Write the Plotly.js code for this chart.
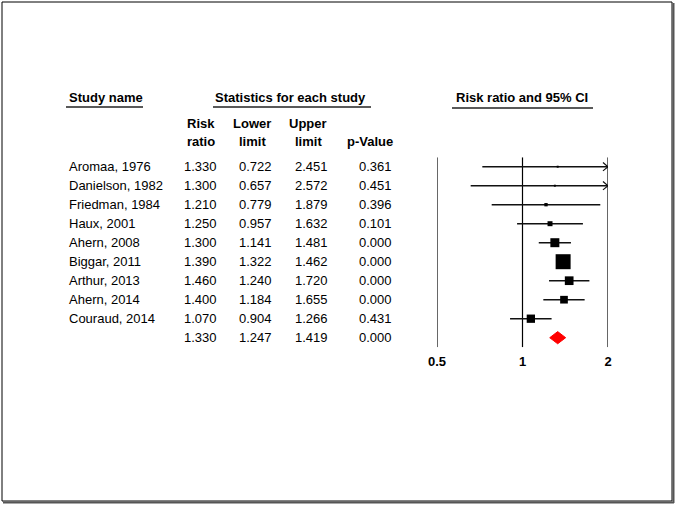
<!DOCTYPE html>
<html>
<head>
<meta charset="utf-8">
<script src="https://cdn.plot.ly/plotly-3.0.1.min.js"></script>
<style>
  html, body { margin: 0; padding: 0; background: #fff; }
  #chart { width: 676px; height: 506px; }
</style>
</head>
<body>
<div id="chart"></div>
<script>
// study data
let studies = ["Aromaa, 1976", "Danielson, 1982", "Friedman, 1984", "Haux, 2001", "Ahern, 2008",
               "Biggar, 2011", "Arthur, 2013", "Ahern, 2014", "Couraud, 2014"];
let riskRatio = [1.330, 1.300, 1.210, 1.250, 1.300, 1.390, 1.460, 1.400, 1.070];
let lowerLimit = [0.722, 0.657, 0.779, 0.957, 1.141, 1.322, 1.240, 1.184, 0.904];
let upperLimit = [2.451, 2.572, 1.879, 1.632, 1.481, 1.462, 1.720, 1.655, 1.266];
let pValue = [0.361, 0.451, 0.396, 0.101, 0.000, 0.000, 0.000, 0.000, 0.431];
// relative weights (%)
let weights = [0.7, 0.7, 2.0, 4.5, 14.6, 40.6, 13.7, 10.7, 12.5];

// pooled estimate
let pooledRR = 1.330;
let pooledLower = 1.247;
let pooledUpper = 1.419;
let pooledP = 0.000;

let axisTicks = [0.5, 1, 2];
let axisMin = 0.5;
let axisMax = 2;

const W = 676, H = 506;
const px = v => v / W;
const py = v => 1 - v / H;
const FONT = "Liberation Sans, Arial, sans-serif";

document.addEventListener("DOMContentLoaded", function () {
    drawForestPlot();
});

function drawForestPlot() {
    let traces = [];
    let nRows = studies.length + 1;

    // vertical reference lines
    axisTicks.forEach(function (t) {
        traces.push({
            x: [t, t], y: [-0.5, nRows - 0.5], type: "scatter", mode: "lines",
            line: { color: "#000", width: 1.2 }, hoverinfo: "skip", cliponaxis: false
        });
    });

    // confidence intervals
    studies.forEach(function (s, i) {
        let lo = Math.max(lowerLimit[i], axisMin);
        let hi = Math.min(upperLimit[i], axisMax);
        traces.push({
            x: [lo, hi], y: [i, i], type: "scatter", mode: "lines",
            line: { color: "#111", width: 1.6 }, hoverinfo: "skip", cliponaxis: false
        });
        if (upperLimit[i] > axisMax) {
            traces.push({
                x: [axisMax * 0.96, axisMax, axisMax * 0.96], y: [i - 0.22, i, i + 0.22],
                type: "scatter", mode: "lines",
                line: { color: "#111", width: 1.2 }, hoverinfo: "skip", cliponaxis: false
            });
        }
    });

    // study squares
    traces.push({
        x: riskRatio, y: studies.map((s, i) => i), type: "scatter", mode: "markers",
        marker: {
            symbol: "square", color: "#000", opacity: 1,
            size: weights.map(w => 2.35 * Math.sqrt(w)),
            line: { width: 0 }
        },
        cliponaxis: false
    });

    // pooled diamond
    let r = studies.length;
    traces.push({
        x: [pooledLower, pooledRR, pooledUpper, pooledRR, pooledLower],
        y: [r, r - 0.32, r, r + 0.32, r],
        type: "scatter", mode: "lines", fill: "toself",
        fillcolor: "#ff0000", line: { color: "#ff0000", width: 1 }, cliponaxis: false
    });

    // table text
    let ann = [];
    function txt(text, x, y, anchor, yref, bold) {
        ann.push({
            text: text, x: px(x), xref: "paper", y: y, yref: yref, xanchor: anchor,
            yanchor: "middle", showarrow: false,
            font: { family: FONT, size: 13, color: "#000", weight: bold ? "bold" : "normal" }
        });
    }
    txt("Study name", 67, py(97), "left", "paper", true);
    txt("Statistics for each study", 290, py(97), "center", "paper", true);
    txt("Risk ratio and 95% CI", 522, py(97), "center", "paper", true);

    txt("Risk", 201, py(123), "center", "paper", true);
    txt("ratio", 201, py(142), "center", "paper", true);
    txt("Lower", 252, py(123), "center", "paper", true);
    txt("limit", 252, py(142), "center", "paper", true);
    txt("Upper", 308, py(123), "center", "paper", true);
    txt("limit", 308, py(142), "center", "paper", true);
    txt("p-Value", 370, py(142), "center", "paper", true);

    studies.forEach(function (s, i) {
        txt(s, 67, i, "left", "y", false);
        txt(riskRatio[i].toFixed(3), 219, i, "right", "y", false);
        txt(lowerLimit[i].toFixed(3), 274, i, "right", "y", false);
        txt(upperLimit[i].toFixed(3), 330, i, "right", "y", false);
        txt(pValue[i].toFixed(3), 394, i, "right", "y", false);
    });
    txt(pooledRR.toFixed(3), 219, r, "right", "y", false);
    txt(pooledLower.toFixed(3), 274, r, "right", "y", false);
    txt(pooledUpper.toFixed(3), 330, r, "right", "y", false);
    txt(pooledP.toFixed(3), 394, r, "right", "y", false);

    // underlines and frame
    let shapes = [
        { type: "line", xref: "paper", yref: "paper", x0: px(66), x1: px(143), y0: py(107), y1: py(107), line: { color: "#222", width: 1.3 } },
        { type: "line", xref: "paper", yref: "paper", x0: px(213), x1: px(371), y0: py(107), y1: py(107), line: { color: "#222", width: 1.3 } },
        { type: "line", xref: "paper", yref: "paper", x0: px(452), x1: px(593), y0: py(108), y1: py(108), line: { color: "#222", width: 1.3 } },
        { type: "rect", xref: "paper", yref: "paper", x0: px(2), x1: px(672), y0: py(501), y1: py(2), line: { color: "#000", width: 1 } },
        { type: "line", xref: "paper", yref: "paper", x0: px(3), x1: px(674), y0: py(502.5), y1: py(502.5), line: { color: "#555", width: 2 } },
        { type: "line", xref: "paper", yref: "paper", x0: px(673.5), x1: px(673.5), y0: py(3), y1: py(503), line: { color: "#555", width: 2 } }
    ];

    let layout = {
        width: W, height: H,
        margin: { l: 0, r: 0, t: 0, b: 0 },
        paper_bgcolor: "#fff", plot_bgcolor: "rgba(0,0,0,0)",
        showlegend: false,
        xaxis: {
            type: "log", range: [Math.log10(axisMin), Math.log10(axisMax)],
            domain: [px(437), px(608)],
            tickvals: axisTicks, ticktext: axisTicks.map(String),
            tickfont: { family: FONT, size: 13, color: "#000", weight: "bold" },
            ticklabelstandoff: 5,
            showgrid: false, zeroline: false, showline: false, ticks: "",
            fixedrange: true
        },
        yaxis: {
            range: [nRows - 0.5, -0.5], domain: [py(347.2), py(157.2)],
            visible: false, fixedrange: true
        },
        annotations: ann,
        shapes: shapes
    };

    Plotly.newPlot("chart", traces, layout, { displayModeBar: false, staticPlot: true });
}
</script>
</body>
</html>
